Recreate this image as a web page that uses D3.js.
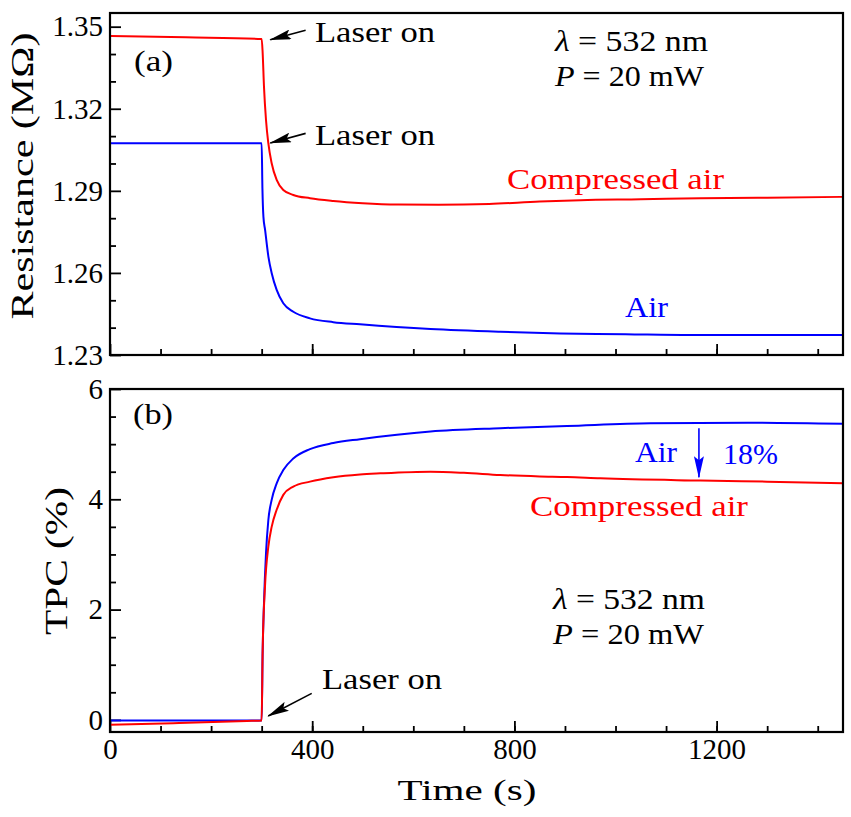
<!DOCTYPE html>
<html>
<head>
<meta charset="utf-8">
<script src="https://cdn.jsdelivr.net/npm/d3@7"></script>
<style>
  body { margin: 0; background: #fff; }
</style>
</head>
<body>
<div id="chart"></div>
<script>
/* ================== DONNEES ================== */

// (a) resistance, air
const tResAir = [0, 150, 300, 301.5, 303.5, 306.8, 313.4, 319.9, 329.7, 342.8, 362.6, 395.6, 441.7, 494.5, 634, 772, 891, 1020, 1148, 1300, 1450];
const resAir = [1.3074, 1.3074, 1.3074, 1.291, 1.2805, 1.2757, 1.2659, 1.2599, 1.2538, 1.2489, 1.2458, 1.2434, 1.242, 1.2412, 1.2395, 1.2385, 1.2379, 1.2376, 1.2373, 1.2373, 1.2373];

// (a) resistance, compressed air
const tResComp = [0, 150, 300, 302, 304.6, 308.6, 313.2, 319.8, 329.7, 342.8, 362.6, 395.6, 441.7, 500, 570, 650, 750, 850, 931, 1050, 1168, 1300, 1450];
const resComp = [1.3466, 1.3461, 1.3455, 1.3404, 1.3281, 1.3159, 1.3074, 1.3001, 1.294, 1.2903, 1.2885, 1.2873, 1.2863, 1.2855, 1.285, 1.2849, 1.2852, 1.2861, 1.2866, 1.2869, 1.2873, 1.2875, 1.2878];

// (b) TPC, air
const tTpcAir = [0, 150, 300, 301.9, 304.6, 308.6, 313.2, 319.8, 329.7, 342.8, 362.6, 395.6, 441.7, 494.5, 634, 772, 904, 1069, 1267, 1450];
const tpcAir = [-0.01, -0.01, -0.01, 1.21, 2.11, 3.02, 3.62, 3.99, 4.29, 4.53, 4.74, 4.91, 5.02, 5.09, 5.23, 5.29, 5.33, 5.38, 5.39, 5.37];

// (b) TPC, compressed air
const tTpcComp = [0, 125, 271, 300, 301.9, 306.6, 313.2, 319.8, 329.7, 342.8, 362.6, 395.6, 441.7, 494.5, 535, 634, 700, 772, 850, 904, 970, 1168, 1300, 1450];
const tpcComp = [-0.09, -0.06, -0.02, -0.01, 1.21, 2.42, 3.14, 3.5, 3.81, 4.08, 4.23, 4.32, 4.4, 4.45, 4.47, 4.5, 4.48, 4.44, 4.415, 4.405, 4.38, 4.34, 4.32, 4.29];

// ticks
const xMajor = [0, 400, 800, 1200];
const xMinor = d3.range(100, 1450, 100);
const resMajor = [1.23, 1.26, 1.29, 1.32, 1.35];
const resMinor = [1.24, 1.25, 1.27, 1.28, 1.3, 1.31, 1.33, 1.34];
const tpcMajor = [0, 2, 4, 6];
const tpcMinor = [0.5, 1, 1.5, 2.5, 3, 3.5, 4.5, 5, 5.5];

/* ================== MISE EN PLACE ================== */

const width = 851, height = 817;
const left = 110, right = 843;
const RED = "#ff0000", BLUE = "#0000ff";
const FONT = "Liberation Serif";

const svg = d3.select("#chart").append("svg")
  .attr("width", width).attr("height", height);

const defs = svg.append("defs");
function marker(id, color) {
  defs.append("marker")
    .attr("id", id)
    .attr("viewBox", "0 0 22 10")
    .attr("refX", 21).attr("refY", 5)
    .attr("markerWidth", 22).attr("markerHeight", 10)
    .attr("markerUnits", "userSpaceOnUse")
    .attr("orient", "auto")
    .append("path")
    .attr("d", "M0,0 L22,5 L0,10 L4,5 Z")
    .attr("fill", color);
}
marker("arrK", "#000");
marker("arrB", BLUE);

const x = d3.scaleLinear().domain([0, 1450]).range([left, right]);
const yRes = d3.scaleLinear().domain([1.23, 1.355]).range([355, 13]);
const yTpc = d3.scaleLinear().domain([-0.22, 6]).range([732, 389]);

function drawPanel(y, id, major, minor, fmt, xLabels) {
  const [y1, y0] = y.range();
  const g = svg.append("g");

  defs.append("clipPath").attr("id", id)
    .append("rect").attr("x", left).attr("y", y0)
    .attr("width", right - left).attr("height", y1 - y0);

  // x ticks
  g.append("g").attr("transform", `translate(0,${y1})`)
    .call(d3.axisBottom(x).tickValues(xMajor).tickSize(-11).tickPadding(6)
      .tickFormat(xLabels ? d3.format("d") : () => ""));
  g.append("g").attr("transform", `translate(0,${y1})`)
    .call(d3.axisBottom(x).tickValues(xMinor).tickSize(-6).tickFormat(() => ""));

  // y ticks
  g.append("g").attr("transform", `translate(${left},0)`)
    .call(d3.axisLeft(y).tickValues(major).tickSize(-11).tickPadding(7).tickFormat(fmt));
  g.append("g").attr("transform", `translate(${left},0)`)
    .call(d3.axisLeft(y).tickValues(minor).tickSize(-6).tickFormat(() => ""));

  g.selectAll(".domain").remove();
  g.selectAll(".tick line").attr("stroke", "#000").attr("stroke-width", 1.8);
  g.selectAll(".tick text")
    .style("font-family", FONT)
    .style("font-size", "29px")
    .attr("fill", "#000");

  return g;
}

function drawLine(y, clip, ts, vs, color) {
  const line = d3.line()
    .x((d) => x(d[0]))
    .y((d) => y(d[1]))
    .curve(d3.curveMonotoneX);
  svg.append("path")
    .datum(ts.map((t, i) => [t, vs[i]]))
    .attr("clip-path", `url(#${clip})`)
    .attr("d", line)
    .attr("fill", "none")
    .attr("stroke", color)
    .attr("stroke-width", 2);
}

function frame(y) {
  const [y1, y0] = y.range();
  svg.append("rect")
    .attr("x", left).attr("y", y0)
    .attr("width", right - left).attr("height", y1 - y0)
    .attr("fill", "none").attr("stroke", "#000").attr("stroke-width", 2.2);
}

// parts: strings (upright) or {i: "..."} (italic)
function label(px, py, parts, len, opts = {}) {
  const t = svg.append("text")
    .style("font-family", FONT)
    .style("font-size", (opts.size || 29) + "px")
    .style("white-space", "pre")
    .attr("fill", opts.color || "#000")
    .attr("text-anchor", opts.anchor || "start");
  if (opts.rotate) t.attr("transform", `translate(${px},${py}) rotate(-90)`);
  else t.attr("x", px).attr("y", py);
  if (len) t.attr("textLength", len).attr("lengthAdjust", "spacingAndGlyphs");
  parts.forEach((p) => {
    if (typeof p === "string") t.append("tspan").text(p);
    else t.append("tspan").style("font-style", "italic").text(p.i);
  });
  return t;
}

function arrow(y, t1, v1, t2, v2, id) {
  svg.append("line")
    .attr("x1", x(t1)).attr("y1", y(v1))
    .attr("x2", x(t2)).attr("y2", y(v2))
    .attr("stroke", id === "arrB" ? BLUE : "#000")
    .attr("stroke-width", 1.6)
    .attr("marker-end", `url(#${id})`);
}

/* ================== PANNEAU (a) ================== */

drawPanel(yRes, "clipA", resMajor, resMinor, d3.format(".2f"), false);
drawLine(yRes, "clipA", tResAir, resAir, BLUE);
drawLine(yRes, "clipA", tResComp, resComp, RED);
frame(yRes);

arrow(yRes, 387, 1.3487, 317, 1.3452, "arrK");
arrow(yRes, 387, 1.311, 317, 1.3075, "arrK");
label(315, 42, ["Laser on"], 120);
label(315, 145, ["Laser on"], 120);
label(134, 71, ["(a)"], 39);
label(555, 51, [{ i: "λ" }, " = 532 nm"], 153);
label(555, 86, [{ i: "P" }, " = 20 mW"], 149);
label(507, 189, ["Compressed air"], 217, { color: RED });
label(625, 317, ["Air"], 43, { color: BLUE });

/* ================== PANNEAU (b) ================== */

drawPanel(yTpc, "clipB", tpcMajor, tpcMinor, d3.format("d"), true);
drawLine(yTpc, "clipB", tTpcAir, tpcAir, BLUE);
drawLine(yTpc, "clipB", tTpcComp, tpcComp, RED);
frame(yTpc);

arrow(yTpc, 399, 0.48, 313, 0.07, "arrK");
arrow(yTpc, 1165, 5.29, 1165, 4.4, "arrB");
label(322, 689, ["Laser on"], 120);
label(133, 424, ["(b)"], 40);
label(553, 609, [{ i: "λ" }, " = 532 nm"], 152);
label(553, 644, [{ i: "P" }, " = 20 mW"], 151);
label(530, 516, ["Compressed air"], 218, { color: RED });
label(635, 462, ["Air"], 42, { color: BLUE });
label(723, 464, ["18%"], 55, { color: BLUE });

/* ================== TITRES DES AXES ================== */

label(467, 800, ["Time (s)"], 139, { size: 30, anchor: "middle" });
label(33, 176, ["Resistance (MΩ)"], 287, { size: 31, anchor: "middle", rotate: true });
label(67, 561, ["TPC (%)"], 148, { size: 32, anchor: "middle", rotate: true });
</script>
</body>
</html>
